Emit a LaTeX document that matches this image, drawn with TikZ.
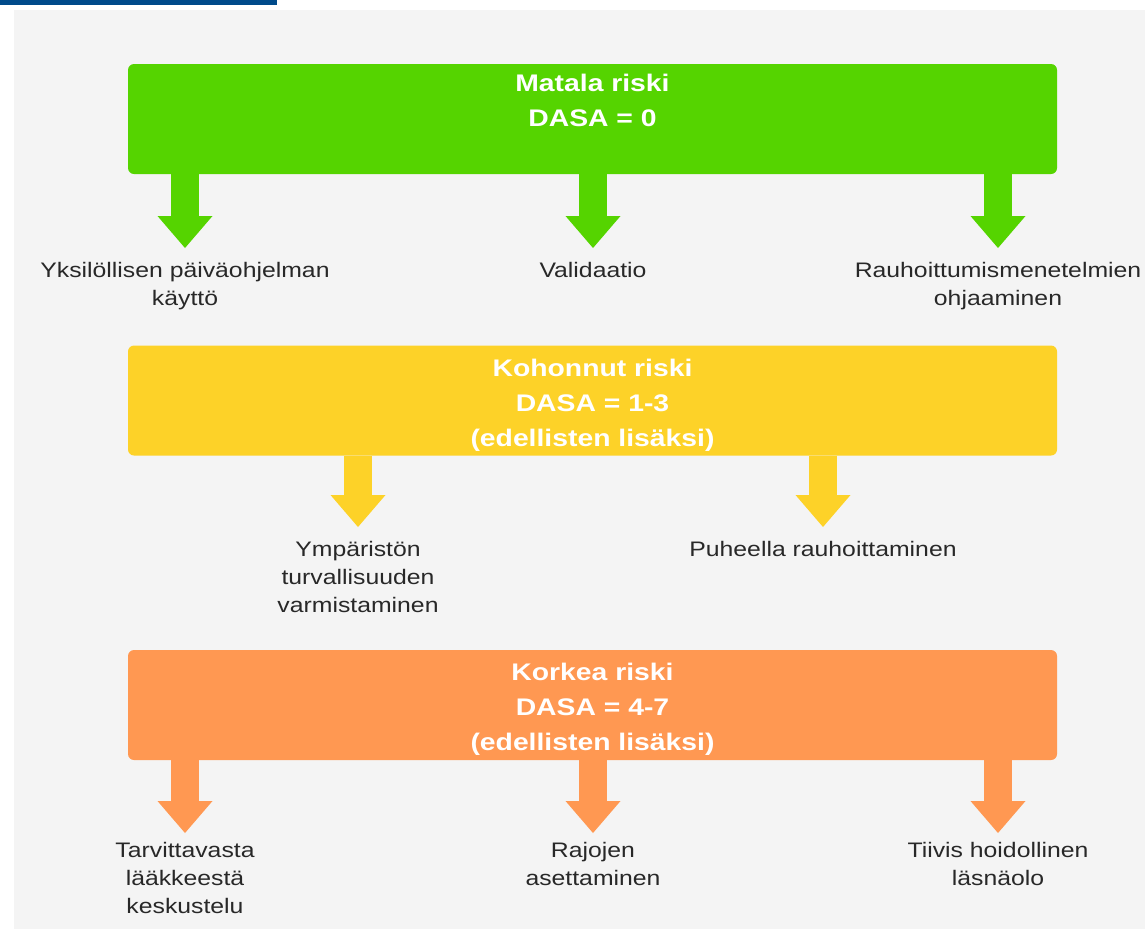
\documentclass[tikz,border=0pt]{standalone}
\usepackage{fontspec}
\setmainfont{Liberation Sans}[FakeStretch=1.18]
\usetikzlibrary{arrows.meta,positioning,calc}
\definecolor{riskgreen}{RGB}{85,212,0}
\definecolor{riskyellow}{RGB}{253,210,40}
\definecolor{riskorange}{RGB}{255,152,82}
\definecolor{dasablue}{RGB}{0,74,138}
\definecolor{bggray}{RGB}{244,244,244}
\definecolor{txtgray}{RGB}{40,40,40}
\newcommand{\toprule}{\rule{0pt}{26pt}}

\begin{document}
\begin{tikzpicture}[x=1pt,y=-1pt,
every node/.style={inner sep=0pt,align=center},
box/.style={rounded corners=6pt,minimum width=929pt,minimum height=110pt,
text=white,font=\bfseries\fontsize{24}{35}\selectfont},
item/.style={anchor=north,text=txtgray,font=\fontsize{21}{28}\selectfont},
blockarrow/.style={line width=28pt,
-{Triangle[width=55pt,length=32pt,line width=0pt]},shorten >=14pt}]
\useasboundingbox (0,0) rectangle (1145,929);
\fill[bggray] (14,10) rectangle (1145,929);
\fill[dasablue] (0,0) rectangle (277,5);

\node[box,fill=riskgreen] (R1) at (592.5,119) {\toprule Matala riski\\DASA = 0\\\strut};
\node[box,fill=riskyellow] (R2) at (592.5,400.5) {\toprule Kohonnut riski\\DASA = 1-3\\(edellisten lisäksi)};
\node[box,fill=riskorange] (R3) at (592.5,705) {\toprule Korkea riski\\DASA = 4-7\\(edellisten lisäksi)};

\node[item] (T11) at (185,262) {Yksilöllisen päiväohjelman\\käyttö};
\node[item] (T12) at (593,262) {Validaatio};
\node[item] (T13) at (998,262) {Rauhoittumismenetelmien\\ohjaaminen};
\node[item] (T21) at (358,541) {Ympäristön\\turvallisuuden\\varmistaminen};
\node[item] (T22) at (823,541) {Puheella rauhoittaminen};
\node[item] (T31) at (185,842) {Tarvittavasta\\lääkkeestä\\keskustelu};
\node[item] (T32) at (593,842) {Rajojen\\asettaminen};
\node[item] (T33) at (998,842) {Tiivis hoidollinen\\läsnäolo};

\draw[blockarrow,riskgreen] (R1.south -| T11) -- (T11.north);
\draw[blockarrow,riskgreen] (R1.south -| T12) -- (T12.north);
\draw[blockarrow,riskgreen] (R1.south -| T13) -- (T13.north);
\draw[blockarrow,riskyellow] (R2.south -| T21) -- (T21.north);
\draw[blockarrow,riskyellow] (R2.south -| T22) -- (T22.north);
\draw[blockarrow,riskorange,shorten >=9pt] (R3.south -| T31) -- (T31.north);
\draw[blockarrow,riskorange,shorten >=9pt] (R3.south -| T32) -- (T32.north);
\draw[blockarrow,riskorange,shorten >=9pt] (R3.south -| T33) -- (T33.north);
\end{tikzpicture}
\end{document}
